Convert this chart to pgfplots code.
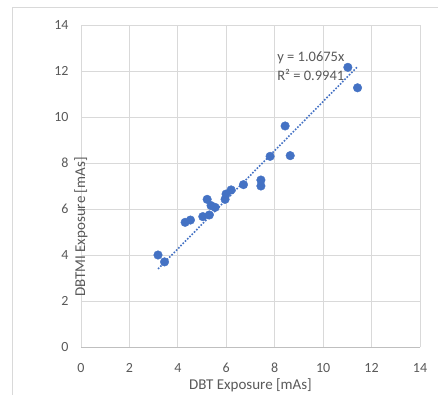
\documentclass[border=0pt]{standalone}
\usepackage{pgfplots}
\pgfplotsset{compat=1.18}
\usepackage{fontspec}
\setmainfont{Carlito}
\definecolor{xlblue}{RGB}{68,114,196}
\definecolor{gridgray}{RGB}{217,217,217}
\definecolor{axgray}{RGB}{191,191,191}
\definecolor{txtgray}{RGB}{89,89,89}
\begin{document}
\begin{tikzpicture}[x=1pt,y=1pt]
\draw[gridgray, line width=1pt] (12,-20) -- (12,386) -- (460,386);
\begin{axis}[
  at={(81pt,47pt)}, anchor=south west,
  scale only axis, width=339pt, height=322pt,
  xmin=0, xmax=14, ymin=0, ymax=14,
  xtick={0,2,...,14}, ytick={0,2,...,14},
  grid=major, major grid style={gridgray, line width=0.9pt},
  axis line style={draw=none},
  major tick length=0pt,
  tick label style={font=\fontsize{14}{16}\selectfont, text=txtgray},
  /pgf/number format/assume math mode=true,
  xticklabel style={anchor=center, yshift=-21pt},
  yticklabel style={anchor=east, xshift=-9pt},
  xlabel={DBT Exposure [mAs]},
  ylabel={DBTMI Exposure [mAs]},
  label style={font=\fontsize{15}{17}\selectfont, text=txtgray},
  x label style={at={(axis description cs:0.5,0)}, anchor=center, yshift=-38pt},
  y label style={at={(axis description cs:0,0.5)}, anchor=center, xshift=-41pt},
  clip=false,
]
\draw[axgray, line width=0.9pt] (axis cs:0,0) -- (axis cs:14,0);
\addplot[only marks, mark=*, mark size=4.3pt, mark options={fill=xlblue, draw=xlblue}] coordinates {
(3.18,4.00) (3.45,3.70) (4.30,5.42) (4.52,5.52) (5.03,5.67)
(5.21,6.42) (5.30,5.74) (5.37,6.15) (5.54,6.07) (5.95,6.42)
(5.99,6.65) (6.20,6.83) (6.71,7.06) (7.43,7.26) (7.43,7.00)
(7.81,8.29) (8.43,9.61) (8.64,8.32) (11.02,12.16) (11.42,11.27)
};
\addplot[xlblue, line width=1.6pt, dash pattern=on 1.6pt off 1.6pt] coordinates {(3.18,3.395) (11.42,12.19)};
\node[anchor=west, text=txtgray, font=\fontsize{14.5}{16}\selectfont, inner sep=0pt] at (axis cs:8.1,12.57) {y = 1.0675x};
\node[anchor=west, text=txtgray, font=\fontsize{14.5}{16}\selectfont, inner sep=0pt] at (axis cs:8.1,11.83) {R² = 0.9941};
\end{axis}
\pgfresetboundingbox
\path[use as bounding box] (0,0) rectangle (438,394);
\end{tikzpicture}
\end{document}
